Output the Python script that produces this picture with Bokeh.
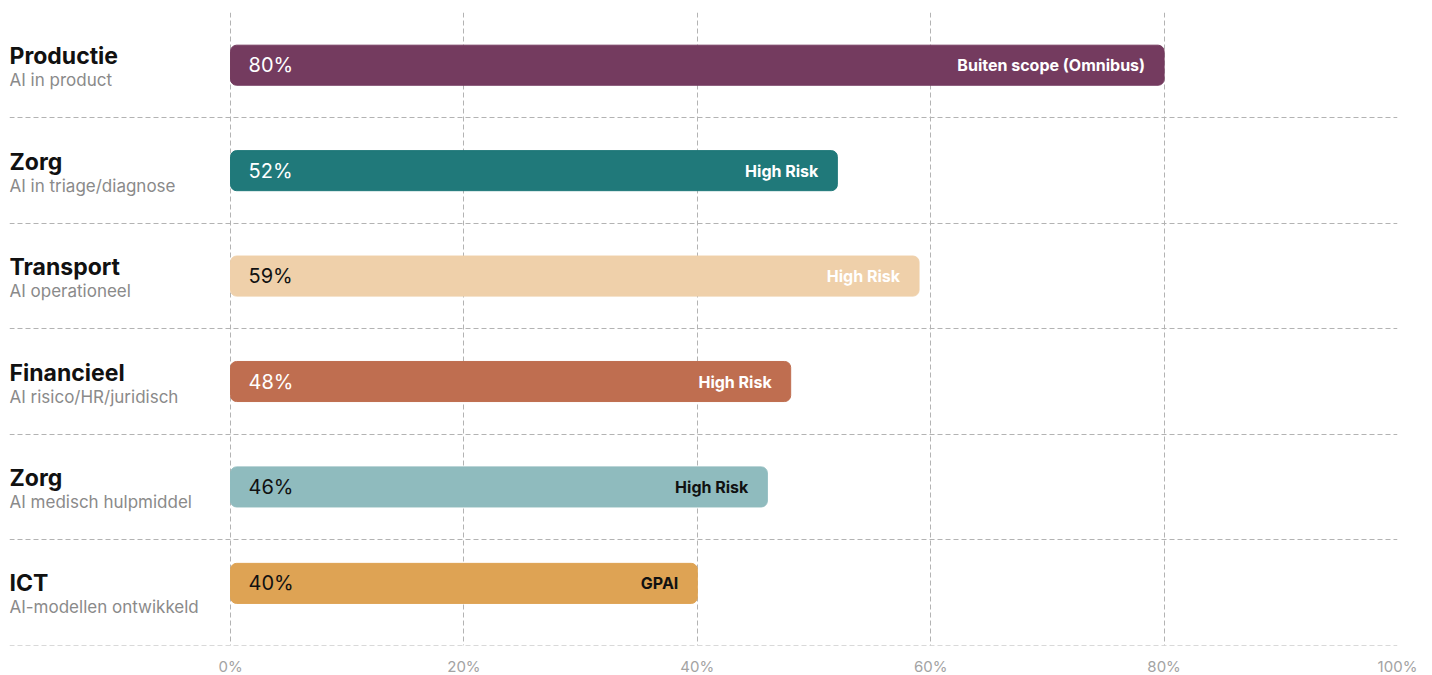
from bokeh.plotting import figure
from bokeh.models import Range1d, FixedTicker, Grid, ColumnDataSource
from bokeh.core.properties import value
from bokeh.embed import file_html
from bokeh.resources import INLINE

# ---- data ----
sectors = ["Productie", "Zorg", "Transport", "Financieel", "Zorg", "ICT"]
subtitles = ["AI in product", "AI in triage/diagnose", "AI operationeel",
             "AI risico/HR/juridisch", "AI medisch hulpmiddel", "AI-modellen ontwikkeld"]
values = [80, 52, 59, 48, 46, 40]
tags = ["Buiten scope (Omnibus)", "High Risk", "High Risk", "High Risk", "High Risk", "GPAI"]
x_ticks = [0, 20, 40, 60, 80, 100]
x_tick_labels = ["0%", "20%", "40%", "60%", "80%", "100%"]

# ---- styles ----
bar_colors = ["#743B5F", "#20797A", "#EFD0AA", "#BF6E50", "#8FBBBE", "#DEA354"]
pct_colors = ["#FFFFFF", "#FFFFFF", "#111111", "#FFFFFF", "#111111", "#111111"]
tag_colors = ["#FFFFFF", "#FFFFFF", "#FFFFFF", "#FFFFFF", "#111111", "#111111"]
bar_nudge = [0, 0, 0, 0, 0, -0.085]  # last bar sits slightly higher in its row
FONT = "Inter"

n = len(values)
rows = list(range(n))
left_edge = -18.94

src = ColumnDataSource(dict(
    y=rows, yb=[r + d for r, d in zip(rows, bar_nudge)],
    v=values, name=sectors, sub=subtitles, tag=tags,
    pct=[f"{v}%" for v in values], color=bar_colors,
    pct_color=pct_colors, tag_color=tag_colors,
    lx=[left_edge] * n, zero=[0] * n,
))

p = figure(frame_width=1388, frame_height=633, output_backend="svg", toolbar_location=None,
           x_range=Range1d(left_edge, 100), y_range=Range1d(n - 0.5 + 0.004, -0.5),
           y_axis_location=None, min_border_left=9, min_border_right=27,
           min_border_top=12, min_border_bottom=20)
p.outline_line_color = None
p.background_fill_color = "white"

# x axis
p.xaxis.ticker = FixedTicker(ticks=x_ticks)
p.xaxis.major_label_overrides = {t: l for t, l in zip(x_ticks, x_tick_labels)}
p.xaxis.axis_line_color = None
p.xaxis.major_tick_line_color = None
p.xaxis.minor_tick_line_color = None
p.xaxis.major_label_standoff = 5
p.xaxis.major_label_text_font = FONT
p.xaxis.major_label_text_font_size = "15px"
p.xaxis.major_label_text_color = "#a3a3a3"

p.xgrid.grid_line_color = "#b3b3b3"
p.xgrid.grid_line_dash = "5 3"
p.xgrid.grid_line_width = 1
p.ygrid.grid_line_color = None

hgrid = Grid(dimension=1, ticker=FixedTicker(ticks=[r + 0.5 for r in rows]),
             grid_line_color="#b3b3b3", grid_line_dash="5 3", grid_line_width=1)
p.add_layout(hgrid)

# bars
p.hbar(y="yb", left="zero", right="v", height=0.38, color="color", source=src,
       border_radius=6)

# percent labels
p.text(x="zero", y="yb", text="pct", x_offset=18, text_align="left",
       text_baseline="middle", text_color="pct_color", text_font=value(FONT),
       text_font_size="20px", source=src)

# tag labels
p.text(x="v", y="yb", text="tag", x_offset=-19, text_align="right",
       text_baseline="middle", text_color="tag_color", text_font=value(FONT),
       text_font_size="16px", text_font_style="bold", source=src)

# sector labels
p.text(x="lx", y="y", text="name", x_offset=0, y_offset=-9, text_align="left",
       text_baseline="middle", text_color="#111111", text_font=value(FONT),
       text_font_size="23px", text_font_style="bold", source=src)
p.text(x="lx", y="y", text="sub", x_offset=0, y_offset=15, text_align="left",
       text_baseline="middle", text_color="#8a8a8a", text_font=value(FONT),
       text_font_size="17px", source=src)

open("out.html", "w").write(file_html(p, INLINE))
